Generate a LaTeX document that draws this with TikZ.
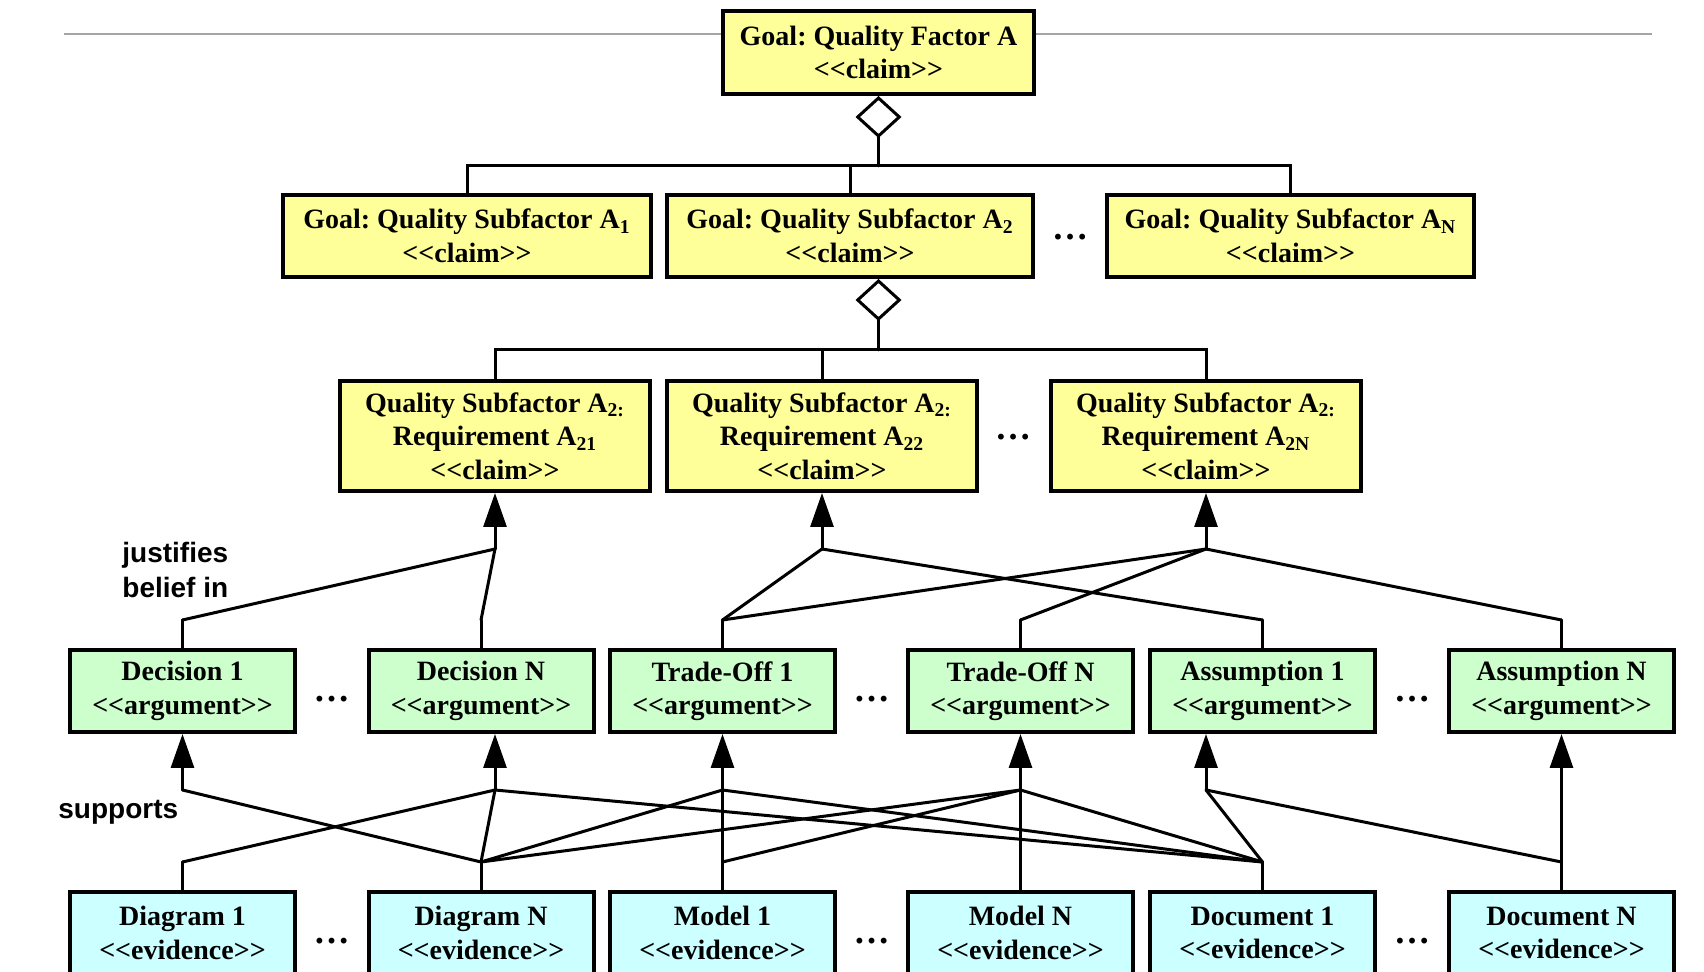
\documentclass[tikz,border=0pt]{standalone}
\usepackage{fontspec}
\setmainfont{Liberation Serif}[Ligatures=TeXOff]
\setsansfont{Liberation Sans}
\frenchspacing
\usetikzlibrary{arrows.meta}
\usetikzlibrary{positioning}
\definecolor{myellow}{RGB}{255,255,153}
\definecolor{mgreen}{RGB}{204,255,204}
\definecolor{mcyan}{RGB}{204,255,255}
\definecolor{mgray}{RGB}{165,165,165}
\tikzset{box/.style = {draw, line width=2pt, inner sep=0pt, align=center,
                       font=\fontsize{14pt}{16.75pt}\selectfont\bfseries},
         claim/.style = {box, fill=myellow},
         argument/.style = {box, fill=mgreen, minimum width=112.5pt, minimum height=41pt},
         evidence/.style = {box, fill=mcyan, minimum width=112.5pt, minimum height=41pt},
         link/.style = {line width=1.5pt, line cap=round},
         justify/.style = {link, -{Triangle[length=17pt, width=11.5pt]}},
         aggregate/.style = {link, arrows={Diamond[open, length=21pt, width=23pt]-}},
         ellip/.style = {inner sep=0pt, font=\fontsize{18pt}{18pt}\selectfont\bfseries},
         relation/.style = {inner sep=0pt, align=left,
                            font=\fontsize{14pt}{17.5pt}\selectfont\sffamily\bfseries}}

\begin{document}
\begin{tikzpicture}[x=0.5pt, y=-0.5pt]
    \useasboundingbox (0,0) rectangle (1704,972);
    \draw [mgray, line width=0.8pt] (64,34) -- (1652,34);

    % claims
    \node [claim, minimum width=155.5pt, minimum height=41.5pt] (A) at (878.5,52.5) {Goal: Quality Factor A\\<<claim>>};
    \node [claim, minimum width=184pt, minimum height=41pt] (A1) at (467,236) {Goal: Quality Subfactor A\textsubscript{1}\\<<claim>>};
    \node [claim, minimum width=183pt, minimum height=41pt] (A2) at (850,236) {Goal: Quality Subfactor A\textsubscript{2}\\<<claim>>};
    \node [claim, minimum width=183.5pt, minimum height=41pt] (AN) at (1290.5,236) {Goal: Quality Subfactor A\textsubscript{N}\\<<claim>>};
    \node [claim, minimum width=155pt, minimum height=55pt] (R21) at (495,436) {Quality Subfactor A\textsubscript{2:}\\Requirement A\textsubscript{21}\\<<claim>>};
    \node [claim, minimum width=155pt, minimum height=55pt] (R22) at (822,436) {Quality Subfactor A\textsubscript{2:}\\Requirement A\textsubscript{22}\\<<claim>>};
    \node [claim, minimum width=155pt, minimum height=55pt] (R2N) at (1206,436) {Quality Subfactor A\textsubscript{2:}\\Requirement A\textsubscript{2N}\\<<claim>>};

    % arguments and evidence
    \foreach \x/\n/\t in {182.5/D1/Decision 1, 481/DN/Decision N, 722.5/T1/Trade-Off 1,
                          1020.5/TN/Trade-Off N, 1262.5/S1/Assumption 1, 1561.5/SN/Assumption N} {
      \node [argument] (\n) at (\x,691) {\t\\<<argument>>};
      \draw [link] (\n.north) -- ++(0,-28) coordinate (t\n);
    }
    \foreach \x/\n/\t in {182.5/G1/Diagram 1, 481/GN/Diagram N, 722.5/M1/Model 1,
                          1020.5/MN/Model N, 1262.5/C1/Document 1, 1561.5/CN/Document N} {
      \node [evidence] (\n) at (\x,933) {\t\\<<evidence>>};
      \draw [link] (\n.north) -- ++(0,-28) coordinate (t\n);
    }

    \node [ellip] (e1) at (1070,237) {\dots};
    \node [ellip] (e2) at (1013,437) {\dots};
    \foreach \x [count=\i] in {331.5, 871.5, 1412} {
      \node [ellip] (f\i) at (\x,699) {\dots};
      \node [ellip] (g\i) at (\x,941) {\dots};
    }

    \node [relation, anchor=west] (justifies) at (122,569.5) {justifies\\belief in};
    \node [relation, anchor=west] (supports) at (58,812) {supports};

    % aggregation
    \coordinate (bar1) at (878.5,166);
    \coordinate (bar2) at (878.5,350);
    \draw [aggregate] (A.south) -- (bar1);
    \draw [link] (A1.north) |- (bar1) -| (AN.north);
    \draw [link] (A2.north) -- (A2.north |- bar1);
    \draw [aggregate] (A2.south -| bar2) -- (bar2);
    \draw [link] (R21.north) |- (bar2) -| (R2N.north);
    \draw [link] (R22.north) -- (R22.north |- bar2);

    % justifies belief in
    \coordinate (j21) at (495,549);
    \coordinate (j22) at (822,549);
    \coordinate (j2N) at (1206,549);
    \foreach \j/\r in {j21/R21, j22/R22, j2N/R2N}
      \draw [justify] (\j) -- (\j |- \r.south);
    \foreach \j/\t in {j21/D1, j21/DN, j22/T1, j22/S1, j2N/T1, j2N/TN, j2N/SN}
      \draw [link] (\j) -- (t\t);

    % supports
    \coordinate (kD1) at (182.5,790);
    \coordinate (kDN) at (495,790);
    \coordinate (kT1) at (722.5,790);
    \coordinate (kTN) at (1020.5,790);
    \coordinate (kS1) at (1206,790);
    \foreach \k/\a in {kD1/D1, kDN/DN, kT1/T1, kTN/TN, kS1/S1}
      \draw [justify] (\k) -- (\k |- \a.south);
    \draw [justify] (CN.north) -- (SN.south);
    \foreach \k/\t in {kD1/GN, kDN/G1, kDN/GN, kDN/C1, kT1/GN, kT1/M1, kT1/C1,
                       kTN/GN, kTN/M1, kTN/MN, kTN/C1, kS1/C1, kS1/CN}
      \draw [link] (\k) -- (t\t);
\end{tikzpicture}
\end{document}
